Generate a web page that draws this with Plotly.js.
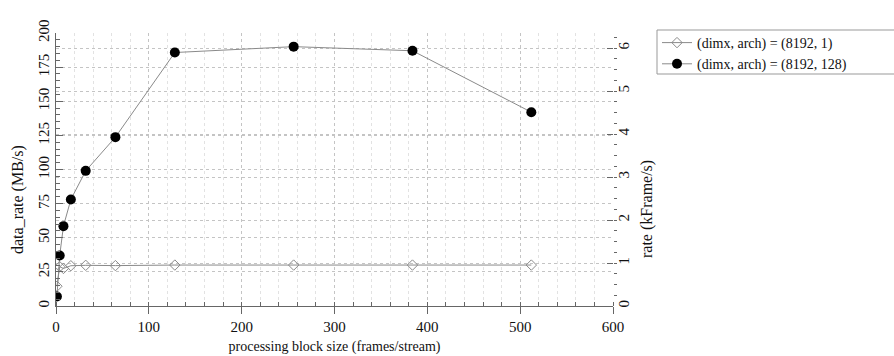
<!DOCTYPE html>
<html>
<head>
<meta charset="utf-8">
<script src="https://cdn.plot.ly/plotly-3.0.1.min.js"></script>
</head>
<body style="margin:0;padding:0;background:#fff">
<div id="chart"></div>
<script>
// processing block size (frames/stream)
const blockSize = [1, 4, 8, 16, 32, 64, 128, 256, 384, 512];
// data_rate (MB/s)
const rateArch1 = [14.5, 28.8, 27.5, 29.5, 29.8, 29.6, 30.0, 30.0, 30.0, 30.0];
const rateArch128 = [7, 37, 58.5, 78, 99, 123.7, 185.7, 190, 187, 142];
const seriesNames = ["(dimx, arch) = (8192, 1)", "(dimx, arch) = (8192, 128)"];
const xTicks = [0, 100, 200, 300, 400, 500, 600];
const yLeftTicks = [0, 25, 50, 75, 100, 125, 150, 175, 200];
const yRightTicks = [0, 1, 2, 3, 4, 5, 6];
const xTitle = "processing block size (frames/stream)";
const yLeftTitle = "data_rate (MB/s)";
const yRightTitle = "rate (kFrame/s)";

const FONT = "Liberation Serif";
const axisCol = "#666";
const gridCol = "#c4c4c4";
const minorGridCol = "#e2e2e2";

// plot-area geometry in pixels (used only to place layout items)
const W = 894, H = 356, ML = 56, MR = 281, MT = 33, MB = 50;
const PW = W - ML - MR, PH = H - MT - MB;
const px2x = p => (p - ML) / PW;
const px2y = p => (H - MB - p) / PH;

const traces = [
  {
    x: blockSize, y: rateArch1, name: seriesNames[0], type: "scatter", mode: "lines+markers",
    line: {color: "#8a8a8a", width: 1},
    marker: {symbol: "diamond-open", size: 8, color: "#8a8a8a", line: {width: 1, color: "#8a8a8a"}},
    hoverinfo: "skip"
  },
  {
    x: blockSize, y: rateArch128, name: seriesNames[1], type: "scatter", mode: "lines+markers",
    line: {color: "#8a8a8a", width: 1},
    marker: {symbol: "circle", size: 10, color: "#000"},
    hoverinfo: "skip"
  },
  { x: [], y: [], yaxis: "y2", showlegend: false, hoverinfo: "skip", type: "scatter", mode: "markers" }
];

const layout = {
  width: W, height: H, autosize: false,
  margin: {l: ML, r: MR, t: MT, b: MB, pad: 0},
  paper_bgcolor: "#fff", plot_bgcolor: "#fff",
  font: {family: FONT, size: 15, color: "#111"},
  showlegend: true,
  legend: {
    x: px2x(657), xanchor: "left", y: px2y(27), yanchor: "top",
    borderwidth: 0, bgcolor: "rgba(0,0,0,0)",
    font: {family: FONT, size: 14, color: "#111"},
    itemwidth: 30, tracegroupgap: 0
  },
  shapes: [
    {type: "rect", xref: "paper", yref: "paper", x0: px2x(657), x1: px2x(900), y0: px2y(74), y1: px2y(30),
     line: {color: "#999", width: 1}, fillcolor: "rgba(0,0,0,0)", layer: "below"}
  ],
  xaxis: {
    range: [0, 600], tickvals: xTicks, ticktext: xTicks.map(String),
    showline: true, linecolor: axisCol, linewidth: 1,
    ticks: "outside", ticklen: 7, tickcolor: axisCol,
    showgrid: true, gridcolor: gridCol, griddash: "dot", gridwidth: 1,
    zeroline: false,
    minor: {dtick: 20, tick0: 0, ticks: "inside", ticklen: 4, tickcolor: axisCol, showgrid: true, gridcolor: minorGridCol, griddash: "dot"},
    title: {text: xTitle, font: {family: FONT, size: 14}, standoff: 7},
    tickfont: {family: FONT, size: 15}
  },
  yaxis: {
    range: [0, 200], tickvals: yLeftTicks, ticktext: yLeftTicks.map(String),
    tickangle: -90,
    showline: true, linecolor: axisCol, linewidth: 1,
    ticks: "inside", ticklen: 7, tickcolor: axisCol,
    showgrid: true, gridcolor: gridCol, griddash: "dot",
    zeroline: false,
    minor: {dtick: 5, tick0: 0, ticks: "inside", ticklen: 4, tickcolor: axisCol, showgrid: false},
    tickfont: {family: FONT, size: 15}
  },
  yaxis2: {
    overlaying: "y", side: "right", anchor: "x",
    range: [0, 6.35], tickvals: yRightTicks, ticktext: yRightTicks.map(String),
    tickangle: -90,
    showline: false,
    ticks: "inside", ticklen: 6, tickcolor: axisCol,
    showgrid: true, gridcolor: gridCol, griddash: "dot",
    zeroline: false,
    minor: {dtick: 0.25, tick0: 0, ticks: "outside", ticklen: 3, tickcolor: axisCol, showgrid: false},
    tickfont: {family: FONT, size: 15}
  },
  annotations: [
    {text: yLeftTitle, xref: "paper", yref: "paper", x: px2x(18), y: px2y(200), xanchor: "center", yanchor: "middle", textangle: -90, showarrow: false, font: {family: FONT, size: 16, color: "#111"}},
    {text: yRightTitle, xref: "paper", yref: "paper", x: px2x(647), y: px2y(209), xanchor: "center", yanchor: "middle", textangle: -90, showarrow: false, font: {family: FONT, size: 16, color: "#111"}}
  ]
};

Plotly.newPlot("chart", traces, layout, {displayModeBar: false});
</script>
</body>
</html>
